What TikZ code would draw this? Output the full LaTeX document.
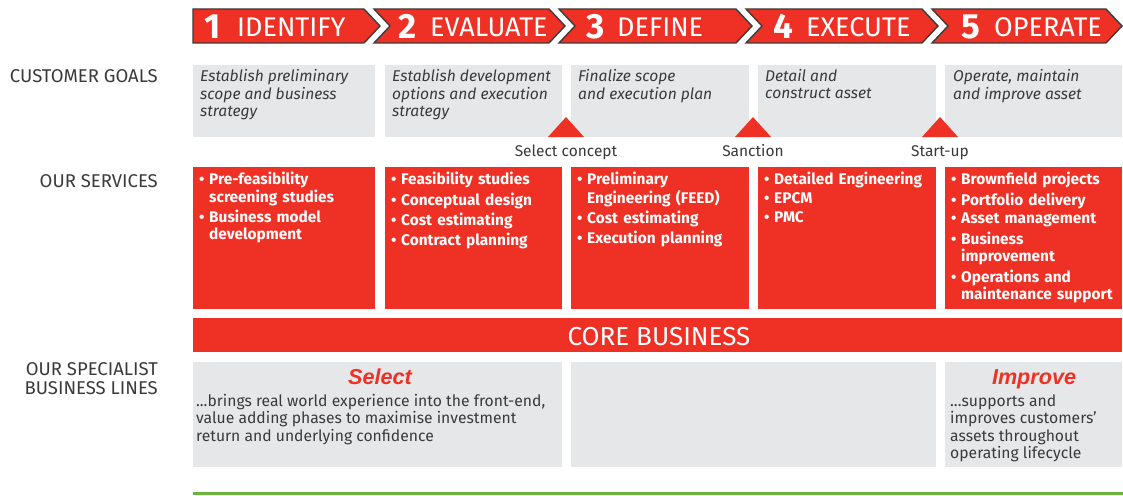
\documentclass[tikz,border=0pt]{standalone}
\usepackage{fontspec}
\setmainfont{Fira Sans}
\newfontfamily\headfont{Liberation Sans}
\definecolor{wred}{HTML}{EE3124}
\definecolor{wgray}{HTML}{E6E7E8}
\definecolor{wtext}{HTML}{3A3A3A}
\definecolor{wdark}{HTML}{3C3C3C}
\definecolor{wgreen}{HTML}{6DB33F}
\newcommand{\bitem}[1]{\par\noindent\makebox[10pt][l]{\textbullet}\begin{tabular}[t]{@{}l@{}}#1\end{tabular}}
\tikzset{
  chev/.style={fill=wred, draw=wdark, line width=1.4pt, line join=miter},
  num/.style={anchor=base west, inner sep=0, text=white, font=\fontsize{35}{35}\selectfont\bfseries},
  phase/.style={anchor=base west, inner sep=0, text=white, font=\fontsize{27}{27}\selectfont},
  lab/.style={anchor=base east, inner sep=0, text=wtext, font=\fontsize{18.5}{18.5}\selectfont},
  gbox/.style={fill=wgray, anchor=north west, inner sep=0, minimum height=#1},
  rbox/.style={fill=wred, anchor=north west, inner sep=0, minimum height=#1},
  goal/.style={anchor=north west, inner sep=0, align=left, text=wtext, font=\fontsize{15.6}{17}\selectfont\itshape},
  svc/.style={anchor=north west, inner sep=0, text width=172pt, align=left, text=white, font=\fontsize{15.4}{17}\selectfont\bfseries\setlength{\parskip}{1.7pt}},
  mile/.style={anchor=base, inner sep=0, text=wtext, font=\fontsize{15.5}{17}\selectfont},
  tri/.style={fill=wred},
  spec/.style={anchor=north west, inner sep=0, align=left, text=wtext, font=\fontsize{15.7}{17.5}\selectfont},
  stitle/.style={anchor=base, inner sep=0, text=wred, font=\fontsize{21.6}{21.6}\headfont\bfseries\itshape},
}
\begin{document}
\begin{tikzpicture}[x=1pt,y=-1pt]
\useasboundingbox (0,0) rectangle (1123,495);
\fill[white] (0,0) rectangle (1123,495);
% chevrons
\draw[chev] (193,9) -- (364,9) -- (380,26) -- (364,43) -- (193,43) -- cycle;
\draw[chev] (374,9) -- (549,9) -- (565,26) -- (549,43) -- (374,43) -- (390,26) -- cycle;
\draw[chev] (559,9) -- (736,9) -- (752,26) -- (736,43) -- (559,43) -- (575,26) -- cycle;
\draw[chev] (746,9) -- (922,9) -- (938,26) -- (922,43) -- (746,43) -- (762,26) -- cycle;
\draw[chev] (932,9) -- (1106,9) -- (1122,26) -- (1106,43) -- (932,43) -- (948,26) -- cycle;
\node[num] (n1) at (204,38) {1};
\node[phase] (p1) at (237,37) {IDENTIFY};
\node[num] (n2) at (398,38) {2};
\node[phase] (p2) at (430,37) {EVALUATE};
\node[num] (n3) at (586,38) {3};
\node[phase] (p3) at (617,37) {DEFINE};
\node[num] (n4) at (773,38) {4};
\node[phase] (p4) at (806,37) {EXECUTE};
\node[num] (n5) at (961,38) {5};
\node[phase] (p5) at (994,37) {OPERATE};
% left labels
\node[lab] (lgoals) at (158,82) {CUSTOMER GOALS};
\node[lab] (lserv) at (158,187) {OUR SERVICES};
\node[lab, anchor=north east, align=right] (lspec) at (158,362) {\strut OUR SPECIALIST\\BUSINESS LINES};
% goal boxes
\node[gbox=72pt, minimum width=182pt] (g1) at (193,65) {};
\node[gbox=72pt, minimum width=177pt] (g2) at (385,65) {};
\node[gbox=72pt, minimum width=178pt] (g3) at (571,65) {};
\node[gbox=72pt, minimum width=178pt] (g4) at (758,65) {};
\node[gbox=72pt, minimum width=177pt] (g5) at (945,65) {};
\node[goal] (gt1) at (200,69) {\strut Establish preliminary\\scope and business\\strategy};
\node[goal] (gt2) at (392,69) {\strut Establish development\\options and execution\\strategy};
\node[goal] (gt3) at (578,69) {\strut Finalize scope\\and execution plan};
\node[goal] (gt4) at (765,69) {\strut Detail and\\construct asset};
\node[goal] (gt5) at (953,69) {\strut Operate, maintain\\and improve asset};
% milestones
\fill[tri] (548,137) -- (566,117) -- (584,137) -- cycle;
\fill[tri] (735,137) -- (753,117) -- (771,137) -- cycle;
\fill[tri] (922,137) -- (940,117) -- (958,137) -- cycle;
\node[mile] (m1) at (566,156) {Select concept};
\node[mile] (m2) at (753,156) {Sanction};
\node[mile] (m3) at (940,156) {Start-up};
% service boxes
\node[rbox=142pt, minimum width=182pt] (s1) at (193,167) {};
\node[rbox=142pt, minimum width=177pt] (s2) at (385,167) {};
\node[rbox=142pt, minimum width=178pt] (s3) at (571,167) {};
\node[rbox=142pt, minimum width=178pt] (s4) at (758,167) {};
\node[rbox=142pt, minimum width=177pt] (s5) at (945,167) {};
\node[svc] (st1) at (199,166) {\bitem{Pre-feasibility\\screening studies}\bitem{Business model\\development}};
\node[svc] (st2) at (391,166) {\bitem{Feasibility studies}\bitem{Conceptual design}\bitem{Cost estimating}\bitem{Contract planning}};
\node[svc] (st3) at (577,166) {\bitem{Preliminary\\Engineering (FEED)}\bitem{Cost estimating}\bitem{Execution planning}};
\node[svc] (st4) at (764,166) {\bitem{Detailed Engineering}\bitem{EPCM}\bitem{PMC}};
\node[svc] (st5) at (951,166) {\bitem{Brownfield projects}\bitem{Portfolio delivery}\bitem{Asset management}\bitem{Business\\improvement}\bitem{Operations and\\maintenance support}};
% core business
\node[rbox=34pt, minimum width=929pt] (core) at (193,318) {};
\node[anchor=base, inner sep=0, text=white, font=\fontsize{26}{26}\selectfont] (coret) at (659,345) {CORE BUSINESS};
% specialist
\node[gbox=105pt, minimum width=369pt] (b1) at (193,362) {};
\node[gbox=105pt, minimum width=365pt] (b2) at (571,362) {};
\node[gbox=105pt, minimum width=177pt] (b3) at (945,362) {};
\node[stitle] (bt1) at (380,384) {Select};
\node[stitle] (bt3) at (1034,384) {Improve};
\node[spec] (bx1) at (196,394) {\strut ...brings real world experience into the front-end,\\value adding phases to maximise investment\\return and underlying confidence};
\node[spec] (bx3) at (950,394) {\strut ...supports and\\improves customers'\\assets throughout\\operating lifecycle};
% green rule
\coordinate (gl) at (193,493.5);
\coordinate (gr) at (1123,493.5);
\draw[wgreen, line width=3pt] (gl) -- (gr);
\end{tikzpicture}
\end{document}
